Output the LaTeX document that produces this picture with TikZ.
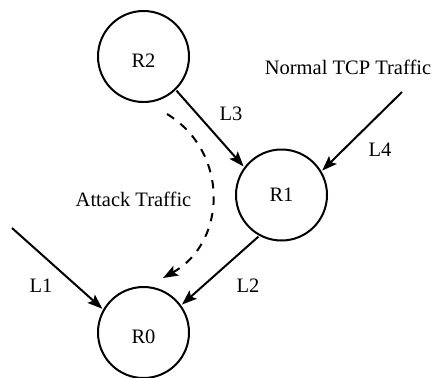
\documentclass[tikz,border=0pt]{standalone}
\usepackage{fontspec}
\setmainfont{Liberation Serif}
\usetikzlibrary{arrows.meta}
\begin{document}
\begin{tikzpicture}[x=1bp,y=-1bp,
  router/.style={circle, draw, line width=2bp, minimum size=91bp, inner sep=0pt, outer sep=2bp,
    font=\fontsize{20.5bp}{24bp}\selectfont},
  lowtext/.style={text height=22.6bp},
  link/.style={line width=2bp, -{Stealth[length=15bp,width=11bp,inset=3bp]}},
  attack/.style={link, dash pattern=on 8.5bp off 8bp},
  lbl/.style={font=\fontsize{20.5bp}{24bp}\selectfont, inner sep=0pt, anchor=base}]
\useasboundingbox (0,0) rectangle (434,377);
\node[router,lowtext] (R2) at (143.5,56.5) {R2};
\node[router] (R1) at (281.5,195) {R1};
\node[router,lowtext] (R0) at (143.5,332.5) {R0};
\coordinate (n4) at (402,92);
\coordinate (n1) at (12,228);
\coordinate (a0) at (167,114);
\coordinate (a1) at (163,278);
\draw[link] (R2.-46) -- (R1.143);
\draw[link] (n4) -- (R1.31);
\draw[link] (R1.-119) -- (R0.36);
\draw[link] (n1) -- (R0.150);
\draw[attack] (a0) .. controls (229.6,152.2) and (227,242) .. (a1);
\node[lbl] (l3) at (231,120) {L3};
\node[lbl] (ntcp) at (348,74.3) {Normal TCP Traffic};
\node[lbl] (l4) at (380,156) {L4};
\node[lbl] (atk) at (133.5,206.5) {Attack Traffic};
\node[lbl] (l1) at (41,292) {L1};
\node[lbl] (l2) at (248,292) {L2};
\end{tikzpicture}
\end{document}
